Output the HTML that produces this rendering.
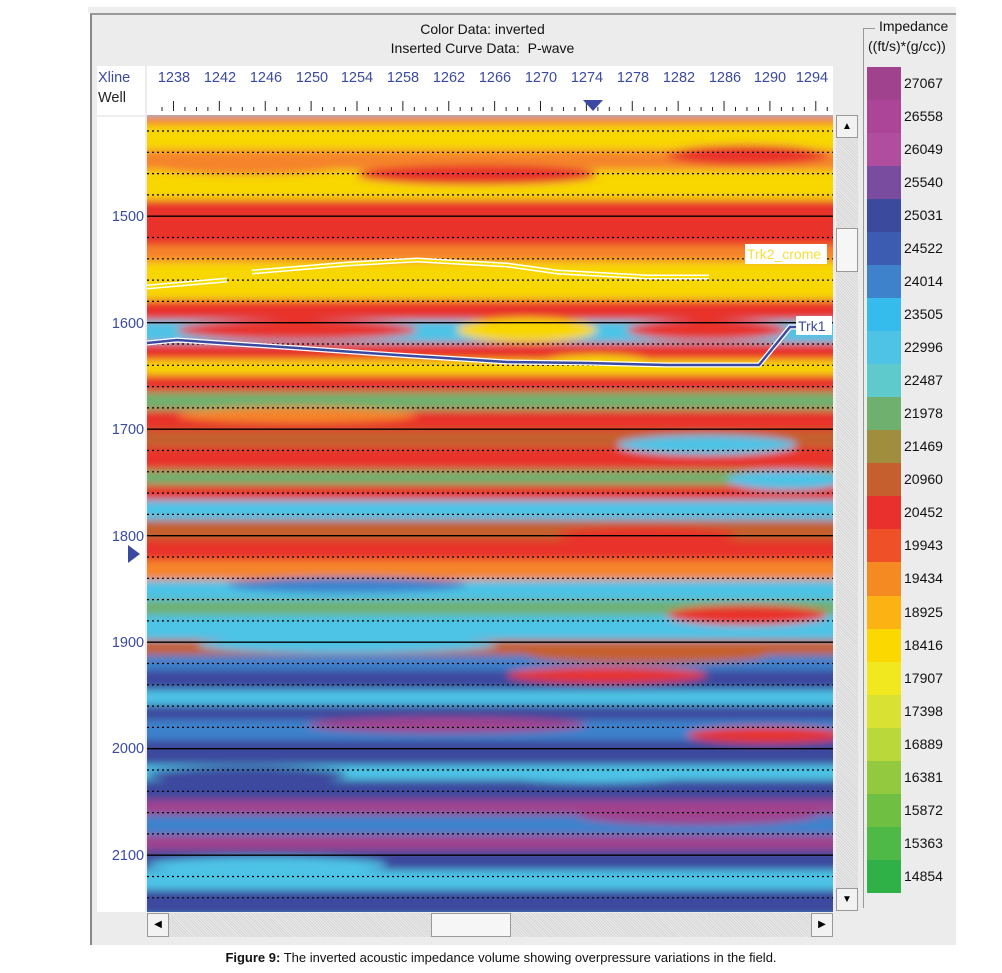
<!DOCTYPE html>
<html><head><meta charset="utf-8"><style>
body{margin:0;background:#fff;width:1002px;height:973px;position:relative;overflow:hidden;font-family:"Liberation Sans",Arial,sans-serif}
.a{position:absolute}
</style></head><body>
<div class="a" style="left:88px;top:7px;width:868px;height:6px;background:#eee"></div>
<div class="a" style="left:90px;top:13px;width:776px;height:930px;background:#ececec;border-top:2px solid #999;border-left:2px solid #888"></div>
<div class="a" style="left:866px;top:13px;width:90px;height:930px;background:#ececec;border-top:2px solid #999"></div>
<div class="a" style="left:300px;top:20px;width:365px;text-align:center;font-size:14px;color:#111;line-height:19px">Color Data: inverted<br>Inserted Curve Data:&nbsp; P-wave</div>
<div class="a" style="left:97px;top:66px;width:48px;height:846px;background:#fff"></div>
<div class="a" style="left:147px;top:66px;width:686px;height:49px;background:#fff"></div>
<div class="a" style="left:97px;top:115px;width:48px;height:2px;background:#eee"></div>
<div class="a" style="left:98px;top:68px;font-size:14.5px;color:#3b4aa0;line-height:20px">Xline<br><span style="color:#222">Well</span></div>
<svg class="a" style="left:0;top:0" width="1002" height="973">
<g font-size="14.5" fill="#3b4aa0" text-anchor="middle" font-family="Liberation Sans,sans-serif">
<text x="174" y="82">1238</text><text x="220" y="82">1242</text><text x="266" y="82">1246</text><text x="312" y="82">1250</text><text x="357" y="82">1254</text><text x="403" y="82">1258</text><text x="449" y="82">1262</text><text x="495" y="82">1266</text><text x="541" y="82">1270</text><text x="587" y="82">1274</text><text x="633" y="82">1278</text><text x="679" y="82">1282</text><text x="725" y="82">1286</text><text x="770" y="82">1290</text><text x="812" y="82">1294</text>
<text x="128" y="221">1500</text><text x="128" y="328">1600</text><text x="128" y="434">1700</text><text x="128" y="541">1800</text><text x="128" y="647">1900</text><text x="128" y="753">2000</text><text x="128" y="860">2100</text>
</g>
<g stroke="#222" stroke-width="1" id="tk"></g>
<polygon points="583,100 603,100 593,111" fill="#3b4aa0"/>
<polygon points="128,545 140,554 128,563" fill="#3b4aa0"/>
</svg>
<svg class="a" style="left:147px;top:115px" width="686" height="797" viewBox="0 0 686 797">
<defs><filter id="b" x="-5%" y="-5%" width="110%" height="110%"><feGaussianBlur stdDeviation="4"/></filter>
<clipPath id="c"><rect width="686" height="797"/></clipPath></defs>
<g clip-path="url(#c)"><g filter="url(#b)" id="bands"></g></g>
<g id="grid"></g>
<polyline points="0,172 80,165" fill="none" stroke="#fff" stroke-width="5"/><polyline points="0,172 80,165" fill="none" stroke="#f8e000" stroke-width="2"/>
<polyline points="105,157 200,149 270,145 360,150 410,157 500,162 562,162" fill="none" stroke="#fff" stroke-width="5"/>
<polyline points="105,157 200,149 270,145 360,150 410,157 500,162 562,162" fill="none" stroke="#f8e000" stroke-width="2"/>
<polyline points="0,228 30,225 150,233 250,240 360,247 440,248 520,250 612,250 643,212 660,212" fill="none" stroke="#fff" stroke-width="5"/>
<polyline points="0,228 30,225 150,233 250,240 360,247 440,248 520,250 612,250 643,212 660,212" fill="none" stroke="#3b4aa0" stroke-width="2.5"/>
<rect x="598" y="129" width="82" height="20" fill="#fff"/>
<text x="600" y="144" font-size="14" fill="#f4e040" font-family="Liberation Sans,sans-serif">Trk2_crome</text>
<rect x="649" y="201" width="36" height="19" fill="#fff"/>
<text x="651" y="216" font-size="14" fill="#3b4aa0" font-family="Liberation Sans,sans-serif">Trk1</text>
</svg>
<div class="a" style="left:836px;top:115px;width:22px;height:795px;background:repeating-linear-gradient(45deg,#d6d6d6 0 1px,#eaeaea 1px 2px)"></div>
<div class="a" style="left:836px;top:115px;width:20px;height:21px;background:#f2f2f2;border:1px solid #999;font-size:10px;text-align:center;line-height:21px">▲</div>
<div class="a" style="left:836px;top:228px;width:20px;height:42px;background:#f6f6f6;border:1px solid #999"></div>
<div class="a" style="left:836px;top:888px;width:20px;height:21px;background:#f2f2f2;border:1px solid #999;font-size:10px;text-align:center;line-height:21px">▼</div>
<div class="a" style="left:147px;top:913px;width:686px;height:24px;background:repeating-linear-gradient(45deg,#d6d6d6 0 1px,#eaeaea 1px 2px)"></div>
<div class="a" style="left:147px;top:913px;width:20px;height:22px;background:#f2f2f2;border:1px solid #999;font-size:10px;text-align:center;line-height:22px">◀</div>
<div class="a" style="left:431px;top:913px;width:78px;height:22px;background:#f6f6f6;border:1px solid #999"></div>
<div class="a" style="left:811px;top:913px;width:20px;height:22px;background:#f2f2f2;border:1px solid #999;font-size:10px;text-align:center;line-height:22px">▶</div>
<div class="a" style="left:863px;top:28px;width:1px;height:880px;background:#999"></div>
<div class="a" style="left:863px;top:28px;width:12px;height:1px;background:#999"></div>
<div class="a" style="left:879px;top:18px;font-size:14px;color:#111">Impedance</div>
<div class="a" style="left:868px;top:38px;font-size:14px;color:#111">((ft/s)*(g/cc))</div>
<div class="a" id="cb" style="left:867px;top:67px;width:34px;height:826px"></div>
<div class="a" id="cl" style="left:904px;top:67px;font-size:14px;color:#111"></div>
<div class="a" style="left:0;top:950px;width:1002px;text-align:center;font-size:13px;color:#111"><b>Figure 9:</b> The inverted acoustic impedance volume showing overpressure variations in the field.</div>
<script>
var cols=["#a0428e","#ac4598","#b14d9f","#7a4c9f","#3c4a9e","#3b5cb0","#3e82cc","#36bcec","#4ec3e6","#5fcacb","#6fb06e","#a08e3e","#c5602e","#e9302c","#ef5028","#f58a22","#fbb212","#fbd800","#f1e820","#d9e132","#bad83a","#93c93e","#6fc042","#4fb948","#30b148"];
var labs=[27067,26558,26049,25540,25031,24522,24014,23505,22996,22487,21978,21469,20960,20452,19943,19434,18925,18416,17907,17398,16889,16381,15872,15363,14854];
var cb=document.getElementById('cb'),cl=document.getElementById('cl'),h='',l='';
for(var i=0;i<25;i++){h+='<div style="height:33.04px;background:'+cols[i]+'"></div>';l+='<div style="height:33.04px;line-height:33px">'+labs[i]+'</div>';}
cb.innerHTML=h;cl.innerHTML=l;
var ns='http://www.w3.org/2000/svg';
function el(p,t,a){var e=document.createElementNS(ns,t);for(var k in a)e.setAttribute(k,a[k]);p.appendChild(e);return e;}
var tk=document.getElementById('tk');
for(var j=0;j<60;j++){var x=162+j*11.47;if(x>830)break;var maj=(j%4==1);el(tk,'line',{x1:x,x2:x,y1:maj?101:107,y2:111});}
var Y='#f8d600',O='#f5842a',R='#e8302c',G='#6fb06e',C='#4ec3e6',B='#3c4a9e',P='#a0428e',BL='#3e82cc',OL='#c5602e';
var bands=[[0,20,O],[10,35,Y],[35,55,O],[55,85,Y],[85,100,R],[100,130,R],[130,147,O],[147,185,Y],[185,205,R],[205,228,C],[228,245,R],[245,260,Y],[260,277,R],[277,295,G],[295,315,R],[315,333,OL],[333,355,R],[355,370,G],[370,385,R],[385,405,C],[405,425,OL],[425,445,R],[445,465,O],[465,485,C],[485,500,G],[500,525,C],[525,540,OL],[540,555,BL],[555,575,B],[575,590,C],[590,605,B],[605,625,BL],[625,650,B],[650,665,C],[665,685,B],[685,700,P],[700,720,BL],[720,735,P],[735,755,B],[755,775,C],[775,797,B]];
var bg=document.getElementById('bands');
el(bg,'rect',{x:-10,y:-10,width:710,height:820,fill:C});
bands.forEach(function(b,i){el(bg,'rect',{x:-10,y:b[0],width:710,height:b[1]-b[0]+4,fill:b[2]});});
var blobs=[[330,60,120,10,R],[600,40,80,10,R],[150,300,120,8,O],[560,215,80,10,R],[380,215,70,12,Y],[150,215,120,10,R],[600,500,80,10,R],[460,560,100,8,R],[620,620,80,8,R],[200,470,120,8,BL],[550,700,120,10,P],[100,660,100,8,B],[500,420,90,8,R],[450,250,60,10,Y],[640,365,60,10,C],[560,330,90,10,C],[100,50,100,10,O],[300,610,140,8,P],[200,530,150,8,C],[500,540,120,8,OL],[120,750,120,8,C],[450,660,100,8,C]];
blobs.forEach(function(b){el(bg,'ellipse',{cx:b[0],cy:b[1],rx:b[2],ry:b[3],fill:b[4]});});
var g=document.getElementById('grid');
for(var k=0;k<38;k++){var y=16+k*21.3;if(y>797)break;var solid=((k-4)%5==0);
el(g,'line',{x1:0,x2:686,y1:y,y2:y,stroke:'#000','stroke-width':solid?1.3:1.2,'stroke-dasharray':solid?'none':'2 3'});}
</script>
</body></html>
